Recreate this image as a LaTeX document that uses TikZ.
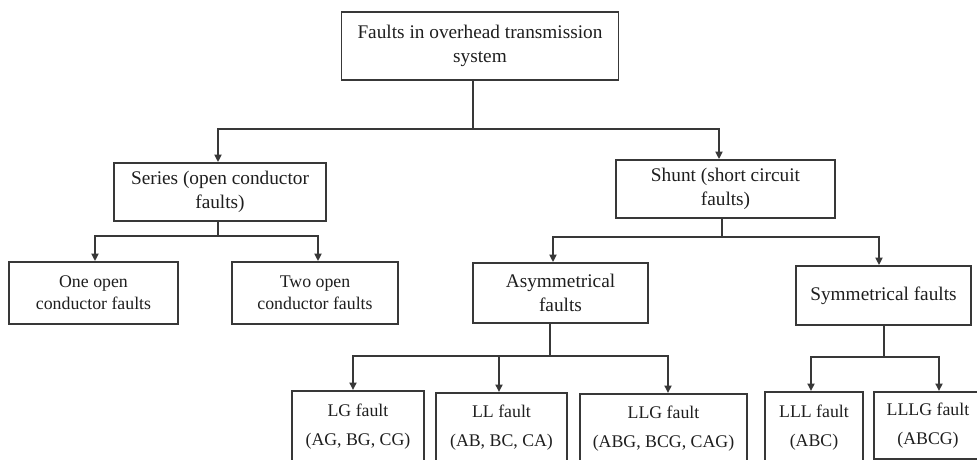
\documentclass[tikz,border=0pt]{standalone}
\usepackage{fontspec}
\setmainfont{Liberation Serif}
\usepackage{tikz}
\usetikzlibrary{calc, positioning, arrows.meta}
\definecolor{ink}{HTML}{1E1E1E}
\definecolor{edge}{HTML}{383838}

\begin{document}
\begin{tikzpicture}[x=1pt, y=-1pt, font=\fontsize{19.3}{24}\selectfont, text=ink,
    >={Triangle[length=7.5pt,width=7pt]},
    box/.style={draw=edge, line width=1.8pt, align=center, inner sep=2pt},
    leaf/.style={box, font=\fontsize{17.8}{22}\selectfont},
    link/.style={draw=edge, line width=1.8pt}]
  \useasboundingbox (0,0) rectangle (977,459);
  \clip (0,0) rectangle (977,459);

  % top two levels
  \node[box, minimum width=277pt, minimum height=68pt] (root) at (480,46)
    {Faults in overhead transmission\\system};
  \node[box, minimum width=212pt, minimum height=58pt] (series) at (220,192)
    {Series (open conductor\\faults)};
  \node[box, minimum width=219pt, minimum height=58pt] (shunt) at (725.5,189)
    {Shunt (short circuit\\faults)};

  % third level
  \node[leaf, minimum width=169pt, minimum height=62pt] (oneopen) at (93.5,293)
    {One open\\conductor faults};
  \node[leaf, minimum width=166pt, minimum height=62pt] (twoopen) at (315,293)
    {Two open\\conductor faults};
  \node[box, minimum width=175pt, minimum height=60pt] (asym) at (560.5,293)
    {Asymmetrical\\faults};
  \node[box, minimum width=175pt, minimum height=59pt] (sym) at (883.5,295.5)
    {Symmetrical faults};

  % bottom row
  \node[leaf, anchor=north, minimum width=132pt, minimum height=72pt] (lg) at (358,390)
    {LG fault\\[7pt](AG, BG, CG)};
  \node[leaf, anchor=north, minimum width=131pt, minimum height=70pt] (ll) at (501.5,392)
    {LL fault\\[7pt](AB, BC, CA)};
  \node[leaf, anchor=north, minimum width=167pt, minimum height=69pt] (llg) at (663.5,393)
    {LLG fault\\[7pt](ABG, BCG, CAG)};
  \node[leaf, anchor=north, minimum width=98pt, minimum height=71pt] (lll) at (814,391)
    {LLL fault\\[7pt](ABC)};
  \node[leaf, anchor=north, minimum width=108pt, minimum height=67pt] (lllg) at (928,391)
    {LLLG fault\\[7pt](ABCG)};

  % connectors
  \coordinate (j0) at ($(root.south)+(-7,48)$);
  \draw[link] (root.south -| j0) -- (j0);
  \draw[link, ->] (j0) -| ([xshift=-2pt]series.north);
  \draw[link, ->] (j0) -| ([xshift=-6.5pt]shunt.north);

  \coordinate (j1) at ($(series.south)+(-2,14)$);
  \draw[link] (series.south -| j1) -- (j1);
  \draw[link, ->] (j1) -| ([xshift=1.5pt]oneopen.north);
  \draw[link, ->] (j1) -| ([xshift=3pt]twoopen.north);

  \coordinate (j2) at ($(shunt.south)+(-3.5,18)$);
  \draw[link] (shunt.south -| j2) -- (j2);
  \draw[link, ->] (j2) -| ([xshift=-7.5pt]asym.north);
  \draw[link, ->] (j2) -| ([xshift=-4.5pt]sym.north);

  \coordinate (j3) at ($(asym.south)+(-10.5,32)$);
  \draw[link] (asym.south -| j3) -- (j3);
  \draw[link, ->] (j3) -| ([xshift=-5pt]lg.north);
  \draw[link, ->] (j3) -| ([xshift=-2.5pt]ll.north);
  \draw[link, ->] (j3) -| ([xshift=4.5pt]llg.north);

  \coordinate (j4) at ($(sym.south)+(0.5,31)$);
  \draw[link] (sym.south -| j4) -- (j4);
  \draw[link, ->] (j4) -| ([xshift=-3pt]lll.north);
  \draw[link, ->] (j4) -| ([xshift=11pt]lllg.north);
\end{tikzpicture}
\end{document}
